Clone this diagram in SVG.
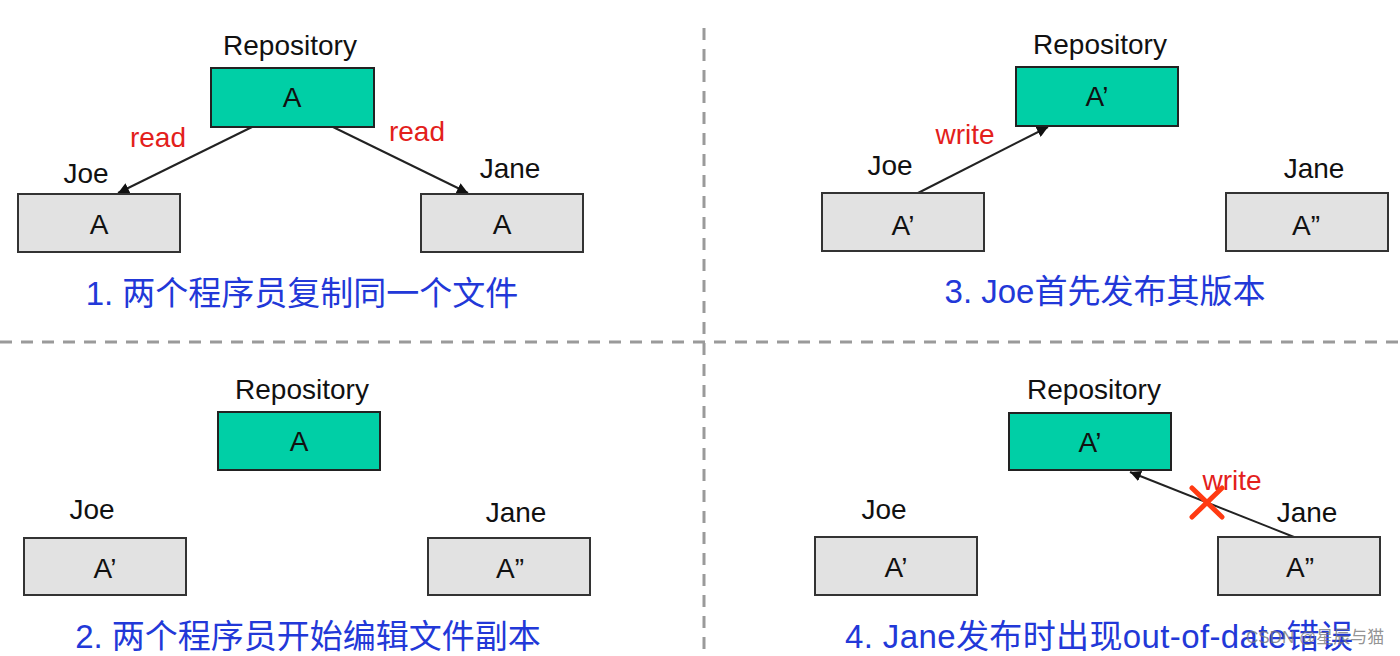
<svg xmlns="http://www.w3.org/2000/svg" width="1400" height="656" viewBox="0 0 1400 656">
<style>
.lbl{font-family:"Liberation Sans",Arial,sans-serif;font-size:28px;fill:#111;text-anchor:middle}
.val{font-family:"Liberation Sans",Arial,sans-serif;font-size:28px;fill:#111;text-anchor:middle}
.op{font-family:"Liberation Sans",Arial,sans-serif;font-size:28px;fill:#e3201b;text-anchor:middle}
.cap{font-family:"Liberation Sans","Noto Sans CJK SC",sans-serif;font-size:33px;fill:#2238d8;text-anchor:middle}
.repo{fill:#00cfa6;stroke:#222;stroke-width:2}
.wc{fill:#e2e2e2;stroke:#333;stroke-width:2}
.conn{stroke:#222;stroke-width:2;fill:none}
.div{stroke:#9a9a9a;stroke-width:3;stroke-dasharray:12 9;fill:none}
</style>
<defs>
<marker id="arr" viewBox="0 0 10 10" refX="10" refY="5" markerWidth="11" markerHeight="11" markerUnits="userSpaceOnUse" orient="auto">
<path d="M0,0 L10,5 L0,10 z" fill="#111"/>
</marker>
</defs>
<rect width="1400" height="656" fill="#fff"/>
<g id="dividers">
<line class="div" x1="0" y1="342" x2="1400" y2="342"/>
<line class="div" x1="704" y1="28" x2="704" y2="656"/>
</g>
<g id="connectors">
<line class="conn" x1="252" y1="127" x2="118" y2="193" marker-end="url(#arr)"/>
<line class="conn" x1="333" y1="127" x2="468" y2="193" marker-end="url(#arr)"/>
<line class="conn" x1="918" y1="193" x2="1048" y2="127" marker-end="url(#arr)"/>
<line class="conn" x1="1294" y1="537" x2="1130" y2="472" marker-end="url(#arr)"/>
<text class="op" x="158" y="147">read</text>
<text class="op" x="417" y="141">read</text>
<text class="op" x="965" y="144">write</text>
<text class="op" x="1232" y="490">write</text>
<g id="reject" stroke="#ff3a12" stroke-width="5" stroke-linecap="round">
<line x1="1192" y1="488" x2="1222" y2="517"/>
<line x1="1222" y1="488" x2="1192" y2="517"/>
</g>
</g>
<g id="p1-repo"><text class="lbl" x="290" y="55">Repository</text><rect class="repo" x="211" y="68" width="163" height="59"/><text class="val" x="292" y="107">A</text></g>
<g id="p1-joe"><text class="lbl" x="86" y="183">Joe</text><rect class="wc" x="18" y="194" width="162" height="58"/><text class="val" x="99" y="234">A</text></g>
<g id="p1-jane"><text class="lbl" x="510" y="178">Jane</text><rect class="wc" x="421" y="194" width="162" height="58"/><text class="val" x="502" y="234">A</text></g>
<text id="cap1" class="cap" x="302" y="305">1. 两个程序员复制同一个文件</text>

<g id="p3-repo"><text class="lbl" x="1100" y="54">Repository</text><rect class="repo" x="1016" y="67" width="162" height="59"/><text class="val" x="1097" y="106">A’</text></g>
<g id="p3-joe"><text class="lbl" x="890" y="175">Joe</text><rect class="wc" x="822" y="193" width="162" height="58"/><text class="val" x="903" y="235">A’</text></g>
<g id="p3-jane"><text class="lbl" x="1314" y="178">Jane</text><rect class="wc" x="1226" y="193" width="162" height="58"/><text class="val" x="1306" y="235">A”</text></g>
<text id="cap3" class="cap" x="1105" y="303">3. Joe首先发布其版本</text>

<g id="p2-repo"><text class="lbl" x="302" y="399">Repository</text><rect class="repo" x="218" y="412" width="162" height="58"/><text class="val" x="299" y="451">A</text></g>
<g id="p2-joe"><text class="lbl" x="92" y="519">Joe</text><rect class="wc" x="24" y="538" width="162" height="57"/><text class="val" x="105" y="578">A’</text></g>
<g id="p2-jane"><text class="lbl" x="516" y="522">Jane</text><rect class="wc" x="428" y="538" width="162" height="57"/><text class="val" x="510" y="578">A”</text></g>
<text id="cap2" class="cap" x="308" y="648">2. 两个程序员开始编辑文件副本</text>

<g id="p4-repo"><text class="lbl" x="1094" y="399">Repository</text><rect class="repo" x="1009" y="413" width="162" height="57"/><text class="val" x="1090" y="452">A’</text></g>
<g id="p4-joe"><text class="lbl" x="884" y="519">Joe</text><rect class="wc" x="815" y="537" width="162" height="58"/><text class="val" x="896" y="577">A’</text></g>
<g id="p4-jane"><text class="lbl" x="1307" y="522">Jane</text><rect class="wc" x="1218" y="537" width="162" height="58"/><text class="val" x="1300" y="577">A”</text></g>
<text id="cap4" class="cap" x="845" y="648" style="text-anchor:start" textLength="508" lengthAdjust="spacing">4. Jane发布时出现out-of-date错误</text>
<text id="watermark" x="1246" y="643" font-family="'Liberation Sans','Noto Sans CJK SC',sans-serif" font-size="17" fill="#777" fill-opacity="0.8">CSDN @星辰与猫</text>
</svg>
